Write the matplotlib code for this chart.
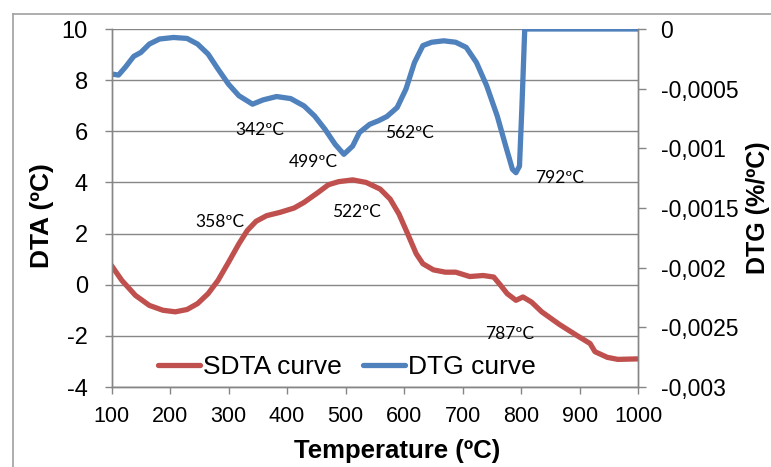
import matplotlib
matplotlib.use("Agg")
import matplotlib.pyplot as plt
from matplotlib.lines import Line2D

plt.rcParams['font.family'] = ['Liberation Sans', 'DejaVu Sans']

# ---------------- data ----------------
sdta_temp = [100, 117.6, 141, 164.7, 188, 209, 229, 247, 265, 282, 300, 317.6, 332, 347,
             365, 388, 412, 429, 453, 470.6, 488, 512, 535, 559, 576, 591, 606, 620.6, 632,
             650, 670.6, 688, 712, 735, 753, 765, 776, 791, 803, 817.6, 835, 865, 894,
             917.6, 926, 947, 965, 1000]
sdta_vals = [0.75, 0.17, -0.42, -0.81, -1.0, -1.06, -0.97, -0.74, -0.35, 0.17, 0.88, 1.60,
             2.12, 2.48, 2.70, 2.83, 3.0, 3.22, 3.61, 3.91, 4.03, 4.10, 4.0, 3.74, 3.35,
             2.77, 1.99, 1.21, 0.82, 0.58, 0.49, 0.49, 0.32, 0.36, 0.30, -0.03, -0.35,
             -0.61, -0.48, -0.68, -1.06, -1.55, -1.97, -2.30, -2.62, -2.84, -2.92, -2.90]

dtg_temp = [100, 112, 123.5, 138, 150, 164.7, 182, 206, 229, 247, 265, 282, 300, 317.6,
            341, 359, 382, 406, 429, 447, 464.7, 482, 497, 512, 523.5, 541, 556, 570.6,
            588, 603, 617.6, 632, 647, 667.6, 688, 706, 723.5, 741, 759, 773.5, 785, 791,
            797, 801, 806, 815, 1000]
dtg_vals = [-0.000377, -0.000386, -0.000321, -0.000229, -0.000197, -0.000126, -0.000084,
            -0.000071, -0.000079, -0.000126, -0.000210, -0.000336, -0.000463, -0.000559,
            -0.000630, -0.000594, -0.000566, -0.000583, -0.000645, -0.000729, -0.000840,
            -0.000966, -0.001050, -0.000981, -0.000868, -0.000799, -0.000769, -0.000733,
            -0.000658, -0.000504, -0.000281, -0.000139, -0.000111, -0.000099, -0.000111,
            -0.000154, -0.000281, -0.000476, -0.000729, -0.000981, -0.001176, -0.001204,
            -0.001149, -0.000673, 0.0, 0.0, 0.0]

x_ticks = [100, 200, 300, 400, 500, 600, 700, 800, 900, 1000]
left_ticks = [10, 8, 6, 4, 2, 0, -2, -4]
right_ticks = [0, -0.0005, -0.001, -0.0015, -0.002, -0.0025, -0.003]
right_tick_labels = ["0", "-0,0005", "-0,001", "-0,0015", "-0,002", "-0,0025", "-0,003"]

annot_texts = ["342ºC", "499ºC", "562ºC", "792ºC", "358ºC", "522ºC", "787ºC"]
annot_x = [352.7, 445, 609, 865, 285, 519, 780]
annot_y = [6.05, 4.8, 5.93, 4.17, 2.45, 2.84, -1.93]

series_names = ["SDTA curve", "DTG curve"]
x_label = "Temperature (ºC)"
left_label = "DTA (ºC)"
right_label = "DTG (%/ºC)"

# ---------------- style ----------------
RED = '#C0504D'
BLUE = '#4F81BD'
GRID = '#868686'
W, H = 771, 467

fig = plt.figure(figsize=(W / 100, H / 100), dpi=100)
fig.patch.set_facecolor('white')

# outer chart frame (cropped)
fig.add_artist(Line2D([13 / W, 1.0], [1 - 14 / H, 1 - 14 / H], color='#A0A0A0', lw=1.2))
fig.add_artist(Line2D([13 / W, 13 / W], [0, 1 - 14 / H], color='#A0A0A0', lw=1.2))

left, right, top, bottom = 111.5, 638.3, 29, 387
ax = fig.add_axes([left / W, 1 - bottom / H, (right - left) / W, (bottom - top) / H])
ax2 = ax.twinx()

l1, = ax.plot(sdta_temp, sdta_vals, color=RED, lw=3.8, solid_joinstyle='round',
              solid_capstyle='round', label=series_names[0])
l2, = ax2.plot(dtg_temp, dtg_vals, color=BLUE, lw=3.8, solid_joinstyle='round',
               solid_capstyle='round', label=series_names[1])

ax.set_xlim(100, 1000)
ax.set_ylim(-4, 10)
ax2.set_ylim(-0.003, 0)

ax.set_xticks(x_ticks)
ax.set_xticklabels([str(t) for t in x_ticks])
ax.set_yticks(left_ticks)
ax.set_yticklabels([str(t) if t >= 0 else '-' + str(-t) for t in left_ticks])
ax2.set_yticks(right_ticks)
ax2.set_yticklabels(right_tick_labels)

ax.yaxis.grid(True, color=GRID, lw=1.0)
ax.set_axisbelow(True)

for a in (ax, ax2):
    a.spines['top'].set_visible(False)
    for s in ('left', 'right', 'bottom'):
        a.spines[s].set_color(GRID)
        a.spines[s].set_linewidth(1.0)

ax.tick_params(axis='y', direction='out', length=5, width=1, color=GRID,
               labelsize=17, pad=12)
ax.tick_params(axis='x', direction='out', length=5, width=1, color=GRID,
               labelsize=15.5, pad=9)
ax2.tick_params(axis='y', direction='out', length=6, width=1, color=GRID,
                labelsize=16.5, pad=10)

# annotations
for t, xv, yv in zip(annot_texts, annot_x, annot_y):
    ax.text(xv, yv, t, ha='center', va='center', fontsize=12.5,
            family=['Lato', 'DejaVu Sans'], color='black')

# axis labels
fig.text(397 / W, 1 - 451 / H, x_label, ha='center', va='center',
         fontsize=18.5, fontweight='bold')
fig.text(42 / W, 1 - 216 / H, left_label, ha='center', va='center',
         fontsize=19, fontweight='bold', rotation=90)
fig.text(746 / W, 1 - 208 / H, right_label, ha='left', va='center',
         fontsize=18, fontweight='bold', rotation=90)

# legend
leg = fig.legend([l1, l2], series_names, loc='center left',
                 bbox_to_anchor=(158 / W, 1 - 367 / H), bbox_transform=fig.transFigure,
                 ncol=2, frameon=False, fontsize=19, handlelength=1.6,
                 handletextpad=0.1, columnspacing=0.8, borderpad=0, borderaxespad=0)

fig.savefig('out.png', dpi=100)
